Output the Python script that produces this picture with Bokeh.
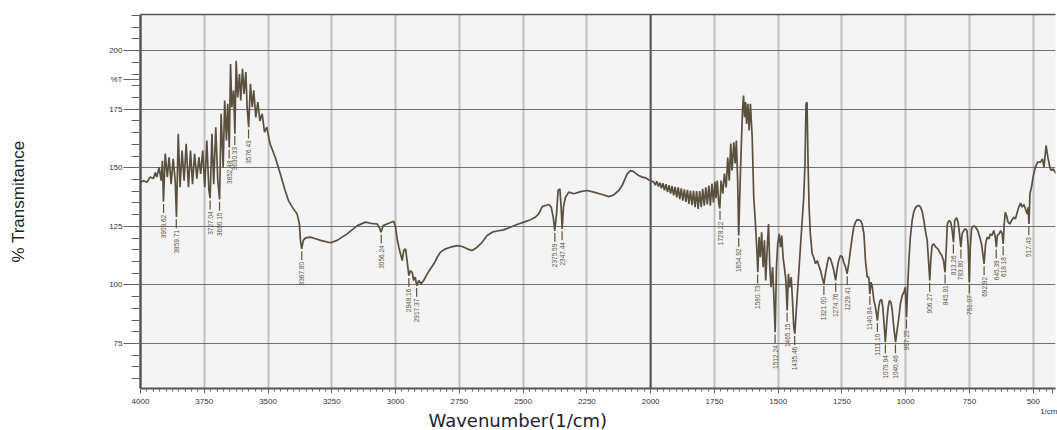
import math
from bokeh.plotting import figure
from bokeh.models import Range1d, FixedTicker, Span, LinearAxis, Title
from bokeh.embed import file_html
from bokeh.resources import INLINE
from bokeh.core.properties import value

# ---------------- data (wavenumber in 1/cm, %T) ----------------
wn_a = [4000, 3988, 3975, 3962, 3949, 3942, 3936, 3927, 3919, 3914, 3910, 3903, 3895, 3888, 3880, 3872,
        3864, 3859, 3852, 3845, 3837, 3829, 3821, 3812, 3804, 3796, 3788, 3779, 3771, 3764, 3756, 3748,
        3740, 3732, 3727, 3720, 3713, 3705, 3697, 3690, 3684, 3676, 3670, 3663, 3658, 3652, 3647, 3642,
        3635, 3630, 3625, 3619, 3612, 3607, 3600, 3594, 3587, 3582, 3576, 3569, 3562, 3556, 3548, 3540,
        3532, 3523, 3514, 3505, 3492, 3472, 3452, 3433, 3420]
t_a = [143.8, 144.5, 143.8, 146, 145.4, 148, 146, 150.2, 144.5, 153, 135.5, 156, 146, 154.5, 143, 153.8,
       144.5, 129, 164.5, 141.7, 157.3, 144.5, 160.2, 141.7, 157.3, 143, 156, 145.3, 154.5, 147.4, 157.3, 141.7,
       161.6, 140.5, 137, 164.5, 143, 167.3, 144.5, 136.5, 173, 150.2, 178.7, 161.6, 177.3, 158.7, 194.3, 175.8,
       183, 164.5, 195.7, 180, 190, 178.7, 192.2, 181.5, 190.8, 175.8, 167.3, 185.8, 175.8, 183, 171.5, 178,
       170, 173, 165.2, 167.3, 160.2, 154.5, 147.4, 140.3, 136]

wn_b = [3405, 3386, 3377, 3373, 3368, 3362, 3353, 3334, 3314, 3294, 3255, 3229, 3190, 3150, 3118, 3098,
        3072, 3062, 3057, 3049, 3027, 3007, 3000, 2994, 2987, 2981, 2974, 2968, 2961, 2955, 2948, 2942,
        2935, 2929, 2923, 2917, 2909, 2900, 2890, 2876, 2863, 2850, 2837, 2824, 2804, 2785, 2758, 2739,
        2719, 2700, 2680, 2661, 2641, 2621, 2602, 2576, 2550, 2524, 2497, 2471, 2452, 2439, 2425, 2412,
        2399, 2390, 2382, 2376, 2369, 2363, 2356, 2351, 2347, 2342, 2334, 2321, 2301, 2275, 2249, 2223,
        2190, 2164, 2145, 2125, 2112]
t_b = [133.2, 130.3, 126, 119, 115.4, 119, 120.1, 120.4, 119.7, 119, 118, 119, 121.8, 125.3, 126.8, 126.3,
       126, 124, 122.5, 125.3, 126.3, 127.2, 124.6, 119.7, 116, 113.3, 110.4, 114.7, 115.4, 110.4, 104, 106.1,
       105.4, 101.9, 103.3, 99.7, 101.9, 100.5, 101.9, 104.7, 106.9, 109, 111.8, 114, 115.4, 116.1, 116.8, 116.4,
       115.4, 114.7, 116.1, 118.2, 121.1, 122.5, 123, 123.5, 124.6, 125.8, 126.8, 127.8, 128.9, 130.3, 133.4, 133.9,
       134.3, 133.2, 128.9, 123.2, 130.3, 140.3, 141, 133.2, 123.9, 133.2, 137.4, 139.6, 138.9, 139.8, 140.3, 139.6,
       138.6, 137.7, 138.4, 140.3, 142.4]

wn_c = [2092, 2079, 2069, 2060, 2047, 2033, 2020, 2007, 1994, 1988, 1982, 1976, 1970, 1964, 1958, 1952,
        1946, 1940, 1934, 1928, 1922, 1916, 1910, 1904, 1898, 1892, 1886, 1880, 1874, 1868, 1862, 1856,
        1850, 1844, 1838, 1832, 1826, 1820, 1814, 1808, 1802, 1796, 1790, 1784, 1778, 1772, 1766, 1760,
        1754, 1748, 1744]
t_c = [147.4, 148.8, 148.5, 147.7, 146.7, 146, 145.7, 144.8, 144.2, 144.0, 142.6, 144.2, 142.0, 143.6, 141.2, 143.4,
       140.4, 143.0, 139.6, 142.6, 139.0, 142.2, 138.2, 141.8, 137.4, 141.6, 136.6, 141.2, 136.0, 140.8, 135.4, 140.6,
       134.6, 140.2, 134.0, 140.2, 133.2, 140.0, 132.4, 140.0, 133.2, 141.0, 133.8, 141.6, 134.4, 142.4, 133.8, 143.2,
       135.2, 144.0, 137.0]

wn_d = [1739, 1733, 1729, 1724, 1717, 1711, 1704, 1698, 1692, 1686, 1681, 1674, 1669, 1664, 1659, 1655,
        1649, 1645, 1640, 1636, 1632, 1628, 1624, 1619, 1614, 1609, 1602, 1596, 1590, 1583, 1580, 1575,
        1570, 1565, 1559, 1554, 1549, 1543, 1538, 1533, 1528, 1522, 1517, 1512, 1507, 1502, 1496, 1491,
        1486, 1481, 1476, 1470, 1465, 1460, 1455, 1449, 1444, 1439, 1435, 1430, 1425, 1418, 1413, 1406,
        1400, 1395, 1391, 1387, 1383, 1379, 1374, 1367, 1361, 1354, 1347, 1341, 1334, 1328, 1321, 1315,
        1308, 1302, 1295, 1289, 1282, 1275, 1269, 1263, 1256, 1249, 1243, 1236, 1230, 1223, 1217, 1210,
        1204, 1197, 1191, 1184, 1178, 1171, 1164, 1158, 1151]
t_d = [144.5, 134.7, 132.6, 144.5, 139, 147.5, 141.6, 154.4, 144.5, 160.3, 148.8, 160.9, 151.8, 161.6, 144.5, 121.1,
       144.5, 158.7, 174.4, 180.8, 171.6, 178, 168.7, 177.3, 165.9, 177.3, 163, 137.4, 127.5, 113.3, 105.4, 120.4,
       111.8, 122.5, 107.6, 119, 101.9, 116.1, 126, 107.6, 99, 107.6, 94.8, 79.8, 107.6, 117.5, 121.8, 116.1,
       121.1, 111.8, 107.6, 101.9, 89.1, 104.7, 99, 103.3, 93.3, 82, 79.2, 87.7, 96.2, 107.6, 116.1, 127.5,
       137.4, 151.7, 177.3, 178, 151.7, 133.2, 121.8, 113.3, 111.8, 109, 110.4, 108.3, 106.1, 103.3, 100.5, 104.7,
       109, 111.8, 111.1, 109, 106.1, 101.9, 106.9, 110.4, 112.5, 112, 109.7, 107.6, 104.7, 109.5, 114.7, 120.4,
       124.6, 126.8, 127.8, 127.8, 127.5, 126, 121.8, 110.4, 103.3]

wn_e = [1145, 1141, 1136, 1131, 1125, 1120, 1115, 1111, 1106, 1101, 1095, 1090, 1085, 1080, 1074, 1069,
        1064, 1058, 1053, 1047, 1040, 1034, 1027, 1021, 1014, 1007, 1002, 997, 992, 987, 982, 975,
        969, 962, 955, 949, 942, 936, 929, 923, 916, 910, 906, 902, 897, 890, 882, 874,
        867, 859, 852, 846, 841, 837, 830, 824, 818, 813, 808, 801, 795, 790, 784, 779,
        773, 767, 760, 755, 751, 747, 742, 734, 726, 718, 710, 703, 698, 693, 687, 681,
        674, 668, 662, 655, 649, 645, 641, 634, 628, 622, 618, 614, 610, 605, 599, 592,
        585, 577, 570, 563, 557, 550, 544, 537, 531, 524, 520, 517, 513, 506, 501, 492,
        483, 472, 464, 458, 450, 443, 435, 429, 422, 414, 405]
t_e = [103.3, 96.2, 101.2, 99, 93.3, 91.2, 87.7, 84.8, 90.5, 93.3, 93.8, 90.5, 83.4, 75.6, 84.8, 90.5,
       93.3, 92.6, 89.1, 82, 75.6, 80.6, 86.2, 91.9, 95.5, 96.9, 99, 86.2, 100.5, 111.8, 120.4, 127.5,
       131, 132.9, 133.7, 133.9, 133.2, 131.5, 127.5, 123.2, 119, 109, 101.9, 110.4, 116.8, 117.5, 116.1, 115.4,
       114, 112.6, 110.4, 105.4, 116.1, 126, 127.5, 126.8, 123.2, 118.2, 127.5, 128.6, 126.8, 122.5, 116.1, 121.8,
       123.2, 124, 123.2, 116.1, 101.2, 116.1, 124, 125.3, 124.6, 123.2, 120.4, 117.5, 113.3, 109, 117.5, 120.4,
       119.7, 121.8, 121.1, 123.2, 120.4, 116.1, 121.1, 121.8, 123.2, 121.8, 117.5, 126, 131, 129.6, 126.8, 126,
       127.5, 128.9, 128.2, 131, 133.2, 134.9, 133.2, 134.3, 132.5, 130.3, 133.2, 126, 138.9, 142.4, 146, 150.2,
       152.4, 152.4, 153.8, 150.2, 159.5, 154.5, 150.2, 148.8, 149.5, 148.1, 146.7]

wavenumber = wn_a + wn_b + wn_c + wn_d + wn_e
transmittance = t_a + t_b + t_c + t_d + t_e

# peak picks (position, %T at the dip)
peak_wn = [3909.62, 3859.71, 3727.04, 3690.15, 3652.48, 3630.33, 3576.43, 3367.80, 3056.24, 2948.16,
           2917.37, 2375.59, 2347.44, 1728.22, 1654.92, 1580.73, 1512.24, 1465.15, 1435.46, 1321.00,
           1274.76, 1229.41, 1140.84, 1111.10, 1079.94, 1040.46, 997.25, 906.27, 845.91, 813.26,
           783.80, 751.07, 692.92, 645.39, 618.18, 517.43]
peak_t = [135.5, 129, 137, 136.5, 158.7, 164.5, 167.3, 115.4, 122.5, 104,
          99.7, 123.2, 123.9, 132.6, 121.1, 105.4, 79.8, 89.1, 79.2, 100.5,
          101.9, 104.7, 96.2, 84.8, 75.6, 75.6, 86.2, 101.9, 105.4, 118.2,
          116.1, 101.2, 109, 116.1, 117.5, 126]
peak_text = [f"{w:.2f}" for w in peak_wn]

x_major = [4000, 3750, 3500, 3250, 3000, 2750, 2500, 2250, 2000, 1750, 1500, 1250, 1000, 750, 500]
x_minor = list(range(425, 4001, 25))
y_major = [75, 100, 125, 150, 175, 200]
y_minor = list(range(60, 216, 5))
highlight_x = 2000
y_unit_tick = 187.5      # where the "%T" unit caption sits on the y scale
x_unit_tick = 426        # where the "1/cm" unit caption sits on the x scale

# ---------------- styling ----------------
PANEL = "#f4f4f4"
CURVE = "#5b4f3d"
LABEL = "#5e523c"

p = figure(width=1057, height=430, output_backend="svg", toolbar_location=None,
           x_range=Range1d(4000, 413), y_range=Range1d(55.8, 215.4),
           min_border_left=140, min_border_right=2, min_border_top=14, min_border_bottom=42,
           background_fill_color=PANEL, border_fill_color="white", outline_line_color=None)

p.xaxis.ticker = FixedTicker(ticks=x_major + [x_unit_tick], minor_ticks=x_minor)
p.xaxis.major_label_overrides = {x_unit_tick: "\n1/cm"}
p.yaxis.ticker = FixedTicker(ticks=y_major + [y_unit_tick], minor_ticks=y_minor)
p.yaxis.major_label_overrides = {y_unit_tick: "%T"}
p.xgrid.ticker = FixedTicker(ticks=x_major)
p.ygrid.ticker = FixedTicker(ticks=y_major)

for ax in (p.xaxis, p.yaxis):
    ax.axis_line_color = "#555555"
    ax.major_tick_line_color = "#666666"
    ax.minor_tick_line_color = "#666666"
    ax.major_tick_in = 0
    ax.minor_tick_in = 0
    ax.major_label_text_color = "#333333"
    ax.major_label_text_font = "Liberation Sans"
    ax.major_label_text_font_size = "8px"

p.xaxis.axis_line_width = 2
p.xaxis.major_tick_out = 5
p.xaxis.minor_tick_out = 3
p.xaxis.major_label_standoff = 3
p.yaxis.axis_line_width = 2.5
p.yaxis.major_tick_out = 17
p.yaxis.minor_tick_out = 9
p.yaxis.major_label_standoff = 1

p.yaxis.axis_label = "% Transmitance"
p.yaxis.axis_label_standoff = 78
p.yaxis.axis_label_text_font = "Liberation Sans"
p.yaxis.axis_label_text_font_style = "normal"
p.yaxis.axis_label_text_font_size = "17px"
p.yaxis.axis_label_text_color = "#222222"

top_axis = LinearAxis(ticker=FixedTicker(ticks=[]), major_label_text_font_size="0px",
                      axis_line_color="#555555", axis_line_width=1.5,
                      major_tick_line_color=None, minor_tick_line_color=None)
p.add_layout(top_axis, "above")

p.add_layout(Title(text="Wavenumber(1/cm)", align="left", offset=288, standoff=-20,
                   vertical_align="top",
                   text_font_size="18px", text_font="DejaVu Sans", text_font_style="normal",
                   text_color="#1c2233"), "below")

p.xgrid.grid_line_color = "#8a8a8a"
p.xgrid.grid_line_width = 2
p.xgrid.grid_line_dash = "1 1"
p.ygrid.grid_line_color = "#707070"
p.ygrid.grid_line_width = 1

p.add_layout(Span(location=highlight_x, dimension="height", line_color="#555555", line_width=2))

p.line(wavenumber, transmittance, line_color=CURVE, line_width=1.7)

# peak leaders and labels
p.segment(x0=peak_wn, y0=[t - 1.0 for t in peak_t], x1=peak_wn, y1=[t - 4.8 for t in peak_t],
          line_color=LABEL, line_width=1.2)
p.text(x=peak_wn, y=[t - 5.6 for t in peak_t], text=peak_text, angle=math.pi / 2,
       text_align="right", text_baseline="middle", text_font_size="6.5px",
       text_color=LABEL, text_font=value("Liberation Sans"))

open("out.html", "w").write(file_html(p, INLINE))
